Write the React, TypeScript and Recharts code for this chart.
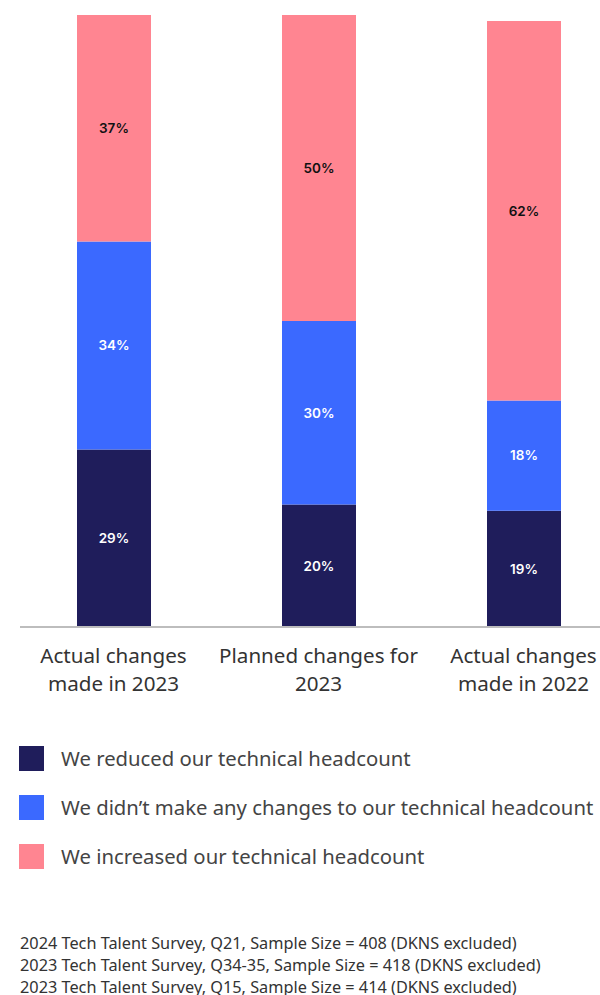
import React from "react";
import { BarChart, Bar, XAxis, YAxis, LabelList } from "recharts";

const categories = [
  "Actual changes made in 2023",
  "Planned changes for 2023",
  "Actual changes made in 2022",
];
const tickLines = [
  ["Actual changes", "made in 2023"],
  ["Planned changes for", "2023"],
  ["Actual changes", "made in 2022"],
];
const reduced = [29, 20, 19];
const noChange = [34, 30, 18];
const increased = [37, 50, 62];

const seriesNames = [
  "We reduced our technical headcount",
  "We didn\u2019t make any changes to our technical headcount",
  "We increased our technical headcount",
];
const seriesColors = ["#1f1d5b", "#3b69ff", "#ff8591"];
const labelColors = ["#ffffff", "#ffffff", "#111111"];
const seriesKeys = ["reduced", "noChange", "increased"];

const footnotes = [
  "2024 Tech Talent Survey, Q21, Sample Size = 408 (DKNS excluded)",
  "2023 Tech Talent Survey, Q34-35, Sample Size = 418 (DKNS excluded)",
  "2023 Tech Talent Survey, Q15, Sample Size = 414 (DKNS excluded)",
];

const FONT = "'Noto Sans', 'Open Sans', sans-serif";

const data = categories.map((name, i) => ({
  name,
  idx: i,
  reduced: reduced[i],
  noChange: noChange[i],
  increased: increased[i],
}));

const Tick = (props: any) => {
  const { x, y, payload } = props;
  const lines = tickLines[payload.index] ?? [String(payload.value)];
  return (
    <g>
      {lines.map((l: string, k: number) => (
        <text
          key={k}
          x={x}
          y={y + 36 + k * 28}
          textAnchor="middle"
          fontFamily={FONT}
          fontSize={20.6}
          fill="#333333"
        >
          {l}
        </text>
      ))}
    </g>
  );
};

export default function App() {
  return (
    <div
      style={{
        position: "absolute",
        left: 0,
        top: 0,
        width: 600,
        height: 995,
        overflow: "hidden",
        background: "#ffffff",
        fontFamily: FONT,
      }}
    >
      <BarChart
        width={600}
        height={700}
        data={data}
        margin={{ top: 15, right: 0, left: 20, bottom: 0 }}
        barSize={74}
      >
        <YAxis hide domain={[0, 100]} />
        <XAxis
          dataKey="name"
          height={73}
          interval={0}
          tickLine={false}
          tickSize={0}
          tickMargin={0}
          axisLine={{ stroke: "#bdbdbd", strokeWidth: 2 }}
          tick={<Tick />}
          padding={{ left: -9, right: -26 }}
        />
        {seriesKeys.map((k, i) => (
          <Bar
            key={k}
            dataKey={k}
            stackId="a"
            fill={seriesColors[i]}
            isAnimationActive={false}
          >
            <LabelList
              dataKey={k}
              position="center"
              formatter={(v: any) => `${v}%`}
              fill={labelColors[i]}
              fontFamily="Inter, sans-serif"
              fontWeight={600}
              fontSize={13.5}
            />
          </Bar>
        ))}
      </BarChart>

      <div style={{ position: "absolute", left: 19, top: 746 }}>
        {seriesNames.map((n, i) => (
          <div
            key={n}
            style={{
              display: "flex",
              alignItems: "center",
              height: 25,
              marginBottom: 24,
            }}
          >
            <div
              style={{
                width: 25,
                height: 25,
                background: seriesColors[i],
                flex: "0 0 auto",
              }}
            />
            <div
              style={{
                marginLeft: 17,
                fontSize: 20.3,
                lineHeight: "25px",
                color: "#444444",
                whiteSpace: "nowrap",
              }}
            >
              {n}
            </div>
          </div>
        ))}
      </div>

      <div
        style={{
          position: "absolute",
          left: 20,
          top: 931.5,
          fontSize: 16.3,
          lineHeight: "22px",
          color: "#333333",
          whiteSpace: "nowrap",
        }}
      >
        {footnotes.map((f) => (
          <div key={f}>{f}</div>
        ))}
      </div>
    </div>
  );
}
